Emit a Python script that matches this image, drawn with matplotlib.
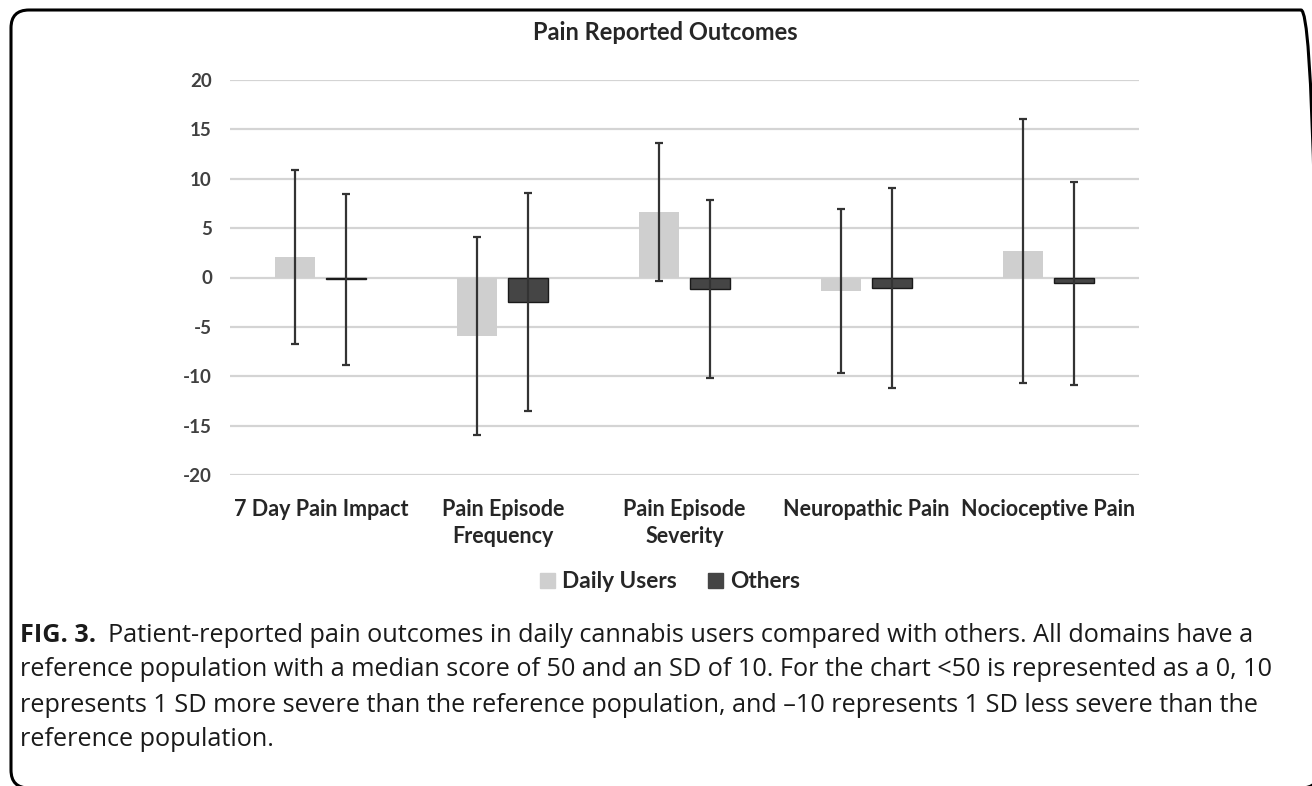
import numpy as np
import matplotlib
matplotlib.use("Agg")
import matplotlib.pyplot as plt
from matplotlib.patches import FancyBboxPatch
from matplotlib.transforms import IdentityTransform

categories = ["7 Day Pain Impact", "Pain Episode\nFrequency", "Pain Episode\nSeverity",
              "Neuropathic Pain", "Nocioceptive Pain"]
daily_mean = [2.1, -5.9, 6.65, -1.4, 2.7]
daily_sd = [8.8, 10.0, 7.0, 8.3, 13.4]
others_mean = [-0.2, -2.5, -1.2, -1.05, -0.6]
others_sd = [8.7, 11.05, 9.0, 10.1, 10.3]
yticks = [-20, -15, -10, -5, 0, 5, 10, 15, 20]
series_names = ["Daily Users", "Others"]

W, H = 1312, 786
fig = plt.figure(figsize=(W / 100, H / 100), dpi=100)
fig.patch.set_facecolor("white")

chart_font = "Lato"
txt_color = "#262626"

ax = fig.add_axes([230 / W, 1 - 475 / H, (1139 - 230) / W, (475 - 80) / H])
x = np.arange(len(categories))
bw = 0.22
off = 0.14

ax.bar(x - off, daily_mean, bw, color="#cfcfcf", edgecolor="none", zorder=2)
ax.bar(x + off, others_mean, bw, color="#454545", edgecolor="#1a1a1a", linewidth=1.0, zorder=2)
err_kw = dict(fmt="none", ecolor="#333333", elinewidth=1.6, capsize=3.2, capthick=1.6, zorder=3)
ax.errorbar(x - off, daily_mean, yerr=daily_sd, **err_kw)
ax.errorbar(x + off, others_mean, yerr=others_sd, **err_kw)

ax.set_xlim(-0.5, len(categories) - 0.5)
ax.set_ylim(-20, 20)
ax.set_yticks(yticks)
ax.set_yticklabels([str(v) for v in yticks], fontfamily=chart_font, fontweight="bold",
                   fontsize=13.5, color="#404040")
ax.set_xticks(x)
ax.set_xticklabels(categories, fontfamily=chart_font, fontweight="bold", fontsize=15.5,
                   color=txt_color, linespacing=1.35)
ax.tick_params(axis="both", length=0)
ax.tick_params(axis="y", pad=13)
ax.tick_params(axis="x", pad=17)
for s in ax.spines.values():
    s.set_visible(False)
ax.yaxis.grid(True, color="#d4d4d4", linewidth=1.6, zorder=0)
ax.set_axisbelow(True)

fig.text(665 / W, 1 - 33 / H, "Pain Reported Outcomes", ha="center", va="center",
         fontfamily=chart_font, fontweight="bold", fontsize=17, color=txt_color)

# legend row
handles = [plt.Rectangle((0, 0), 1, 1, color="#cfcfcf"),
           plt.Rectangle((0, 0), 1, 1, color="#454545")]
leg = fig.legend(handles, series_names, loc="center", bbox_to_anchor=(670 / W, 1 - 582 / H),
                 ncol=2, frameon=False, handlelength=0.65, handleheight=0.65, handletextpad=0.3,
                 columnspacing=1.4, prop={"family": chart_font, "weight": "bold", "size": 16.3})
for t in leg.get_texts():
    t.set_color(txt_color)

# caption
cap_font = "Open Sans"
cap_size = 18.2
lines = [
    "Patient-reported pain outcomes in daily cannabis users compared with others. All domains have a",
    "reference population with a median score of 50 and an SD of 10. For the chart <50 is represented as a 0, 10",
    "represents 1 SD more severe than the reference population, and \u201310 represents 1 SD less severe than the",
    "reference population.",
]
ys = [635, 670, 705, 740]
fig.text(20 / W, 1 - ys[0] / H, "FIG. 3.", ha="left", va="center", fontfamily=cap_font,
         fontweight="bold", fontsize=cap_size, color="#1a1a1a")
fig.text(108 / W, 1 - ys[0] / H, lines[0], ha="left", va="center", fontfamily=cap_font,
         fontsize=cap_size, color="#1a1a1a")
for ln, yy in zip(lines[1:], ys[1:]):
    fig.text(20 / W, 1 - yy / H, ln, ha="left", va="center", fontfamily=cap_font,
             fontsize=cap_size, color="#1a1a1a")

# rounded frame around the whole figure panel
frame = FancyBboxPatch((11, -2), 1308, 778, boxstyle="round,pad=0,rounding_size=18",
                       transform=IdentityTransform(), fill=False, edgecolor="black", linewidth=2.2)
fig.patches.append(frame)

fig.savefig("out.png", dpi=100, facecolor="white")
